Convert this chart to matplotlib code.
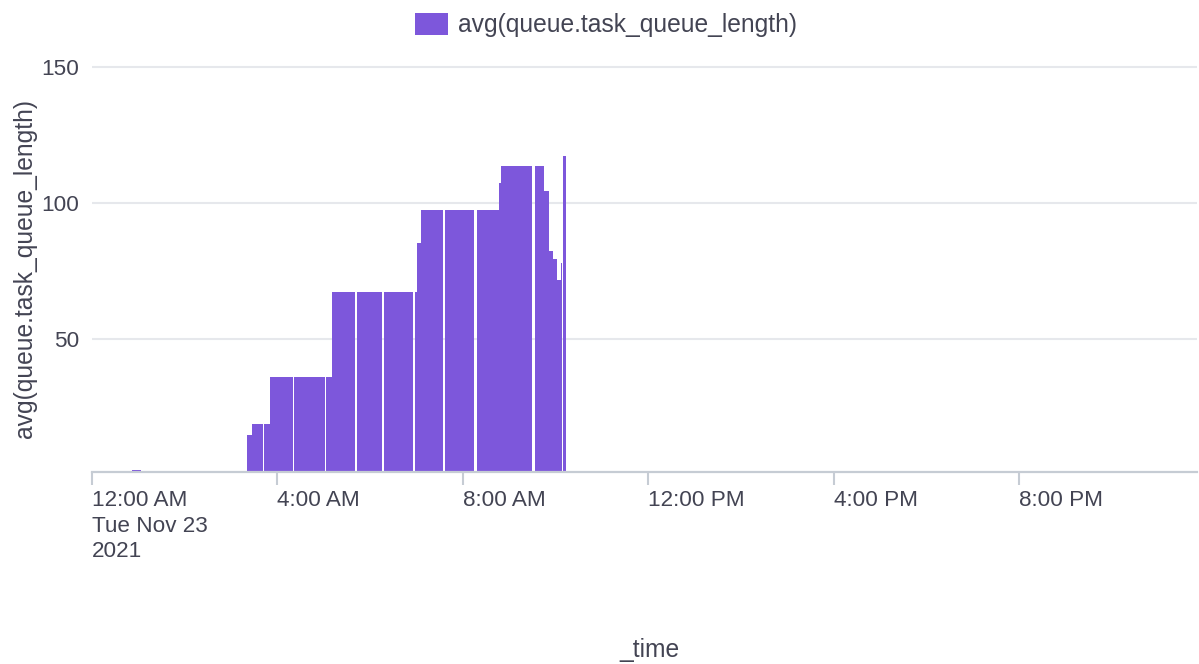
import matplotlib
matplotlib.use("Agg")
import matplotlib.pyplot as plt
import pandas as pd

plt.rcParams['font.family'] = ['Liberation Sans', 'DejaVu Sans']

# ---- data ----
series_name = "avg(queue.task_queue_length)"
day = "2021-11-23"
bar_starts = ["00:52", "03:21", "03:27", "03:43", "03:51", "04:22", "05:03", "05:11",
              "05:43", "06:18", "06:57:30", "07:00:30", "07:06", "07:37", "08:18", "08:47",
              "08:50", "09:33", "09:45", "09:51", "09:57", "10:02", "10:07:20", "10:10"]
bar_ends = ["01:03", "03:27", "03:41", "03:51", "04:20", "05:01", "05:11", "05:41",
            "06:16", "06:56", "07:00:30", "07:06", "07:35", "08:15", "08:47", "08:49",
            "09:30", "09:45", "09:51", "09:57", "10:02", "10:07:20", "10:08:50", "10:14"]
values = [1.8, 14.7, 18.5, 18.5, 35.9, 35.9, 35.9, 67.0,
          67.0, 67.0, 67.0, 85.2, 97.3, 97.3, 97.3, 107.2,
          113.4, 113.4, 104.2, 82.2, 79.2, 71.6, 77.7, 117.1]
tick_hours = [0, 4, 8, 12, 16, 20]
tick_labels = ["12:00 AM\nTue Nov 23\n2021", "4:00 AM", "8:00 AM", "12:00 PM", "4:00 PM", "8:00 PM"]
y_ticks = [50, 100, 150]

# ---- style ----
BAR = "#7D57DB"
TEXT = "#434453"
GRID = "#E6E8EC"
AXIS = "#C6CCD4"
FS = 16.2
FS_BIG = 17.7

t0 = pd.Timestamp(day)
def to_hours(lst):
    return [(pd.Timestamp(f"{day} {s}") - t0) / pd.Timedelta(hours=1) for s in lst]

xs = to_hours(bar_starts)
xe = to_hours(bar_ends)
widths = [e - s for s, e in zip(xs, xe)]

W, H = 1199, 664
fig = plt.figure(figsize=(W / 100, H / 100), dpi=100)
left, right, top, bottom = 92, 1197, 61.3, 471.7
ax = fig.add_axes([left / W, 1 - bottom / H, (right - left) / W, (bottom - top) / H])

ax.bar(xs, values, width=widths, align='edge', color=BAR, linewidth=0,
       label=series_name, zorder=2)

ax.set_xlim(0, 23.84)
ax.set_ylim(1.1, 152)

ax.set_axisbelow(True)
ax.yaxis.grid(True, color=GRID, linewidth=1.5)
for s in ['top', 'right', 'left']:
    ax.spines[s].set_visible(False)
ax.spines['bottom'].set_color(AXIS)
ax.spines['bottom'].set_linewidth(1.6)

ax.set_yticks(y_ticks)
ax.set_yticklabels([str(v) for v in y_ticks])
ax.tick_params(axis='y', length=0, pad=9, labelsize=FS, labelcolor=TEXT)

ax.set_xticks(tick_hours)
ax.set_xticklabels(tick_labels, ha='left', linespacing=1.3)
ax.tick_params(axis='x', direction='out', length=9, width=1.5, color=AXIS,
               pad=4, labelsize=FS, labelcolor=TEXT)

ax.set_xlabel("_time", fontsize=FS_BIG, color=TEXT, va='center')
ax.xaxis.set_label_coords((649 - left) / (right - left), (bottom - 650) / (bottom - top))
ax.set_ylabel(series_name, fontsize=FS_BIG, color=TEXT, va='center')
ax.yaxis.set_label_coords((25 - left) / (right - left), (bottom - 269) / (bottom - top))

leg = ax.legend(loc='center', bbox_to_anchor=(606 / W, 1 - 25 / H),
                bbox_transform=fig.transFigure, frameon=False, fontsize=FS_BIG,
                handlelength=1.35, handleheight=1.0, handletextpad=0.42,
                borderpad=0, borderaxespad=0)
for t in leg.get_texts():
    t.set_color(TEXT)

fig.savefig("out.png", dpi=100)
